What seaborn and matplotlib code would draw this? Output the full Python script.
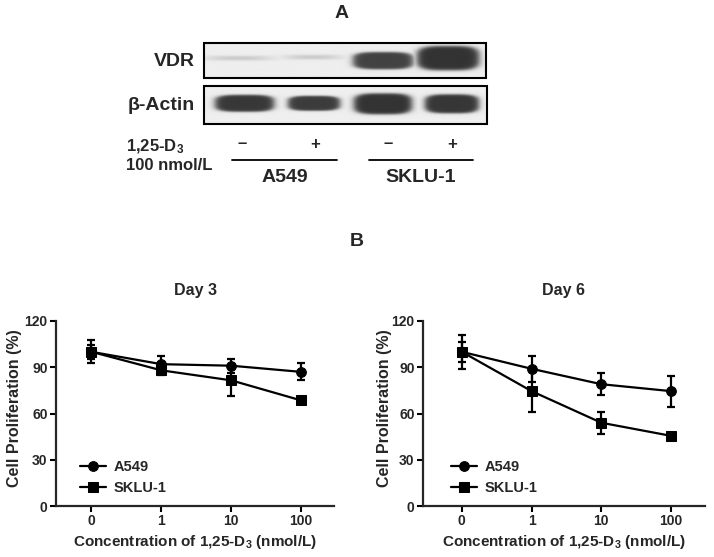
import numpy as np
import pandas as pd
import matplotlib
matplotlib.use("Agg")
import matplotlib.pyplot as plt
from matplotlib.patches import Rectangle
import seaborn as sns

# ---------------- data ----------------
conc_labels = ["0", "1", "10", "100"]
series_names = ["A549", "SKLU-1"]
day3_a549 = [100, 92, 91, 87]
day3_a549_sd = [7.5, 5, 4.5, 5.5]
day3_sklu = [100, 88, 81.5, 68.5]
day3_sklu_sd = [4.5, 3, 10, 2]
day6_a549 = [100, 89, 79, 74.5]
day6_a549_sd = [11, 8.5, 7, 10]
day6_sklu = [100, 74.5, 54, 45.5]
day6_sklu_sd = [6.5, 13.5, 7, 2]
y_ticks = [0, 30, 60, 90, 120]

blot_rows = ["VDR", "β-Actin"]
treatment_signs = ["–", "+", "–", "+"]
cell_lines = ["A549", "SKLU-1"]
vdr_intensity = [0.2, 0.2, 0.92, 1.0]
actin_intensity = [0.97, 0.95, 1.0, 0.98]

# ---------------- style ----------------
sns.set_style("ticks")
plt.rcParams["font.family"] = ["Liberation Sans", "DejaVu Sans"]
plt.rcParams["font.weight"] = "bold"
plt.rcParams["axes.labelweight"] = "bold"
plt.rcParams["axes.titleweight"] = "bold"
plt.rcParams["mathtext.fontset"] = "custom"
plt.rcParams["mathtext.rm"] = "Liberation Sans:bold"
plt.rcParams["mathtext.it"] = "Liberation Sans:bold"
plt.rcParams["mathtext.bf"] = "Liberation Sans:bold"

W, H = 714, 557
fig = plt.figure(figsize=(W / 100, H / 100), dpi=100)

# overlay axes in pixel coordinates for panel A and panel letters
ov = fig.add_axes([0, 0, 1, 1])
ov.set_xlim(0, W)
ov.set_ylim(H, 0)
ov.axis("off")

# ---- western blot (layout constants) ----
boxes = [(204, 42.7, 485.7, 78.0), (204, 85.7, 487.0, 123.7)]
band_cx = [[239, 313, 383, 448], [244.5, 314, 383, 452]]
band_cy = [[58.5, 57.5, 61, 58.5], [103, 103, 103.5, 103.5]]
band_w = [[55, 47, 60, 62], [59, 52, 58, 54]]
band_h = [[4.0, 4.0, 17, 24], [17, 15, 21, 19]]
intensities = [vdr_intensity, actin_intensity]
bg, core = 0.935, 0.2

for r, (x0, y0, x1, y1) in enumerate(boxes):
    nx, ny = int((x1 - x0) * 3), int((y1 - y0) * 3)
    xs = np.linspace(x0, x1, nx)
    ys = np.linspace(y0, y1, ny)
    X, Y = np.meshgrid(xs, ys)
    dark = np.zeros_like(X)
    for k in range(4):
        dx = np.abs(X - band_cx[r][k]) / (band_w[r][k] / 2)
        dy = np.abs(Y - band_cy[r][k]) / (band_h[r][k] / 2)
        d = (dx ** 3.5 + dy ** 3.5) ** (1 / 3.5)
        soft = 0.07 if intensities[r][k] > 0.5 else 0.3
        mask = 1 / (1 + np.exp((d - 1) / soft))
        dark = np.maximum(dark, intensities[r][k] * mask)
    img = bg - dark * (bg - core)
    ov.imshow(img, cmap="gray", vmin=0, vmax=1, extent=(x0, x1, y1, y0),
              interpolation="bilinear", aspect="auto")
    ov.add_patch(Rectangle((x0, y0), x1 - x0, y1 - y0, fill=False,
                           lw=1.5, ec="black", zorder=3))
ov.set_xlim(0, W)
ov.set_ylim(H, 0)

ov.text(342, 14, "A", ha="center", va="center", fontsize=14)
ov.text(357, 241, "B", ha="center", va="center", fontsize=14)
ov.text(195, 61, blot_rows[0], ha="right", va="center", fontsize=14)
ov.text(195, 105, blot_rows[1], ha="right", va="center", fontsize=14)
ov.text(126, 147, "1,25-D$_3$", ha="left", va="center", fontsize=12)
ov.text(126, 165, "100 nmol/L", ha="left", va="center", fontsize=12)
sign_x = [242, 315, 388, 452]
for sx, s in zip(sign_x, treatment_signs):
    ov.text(sx, 144, s, ha="center", va="center", fontsize=12)
for (lx0, lx1), name in zip([(232, 337), (369, 473)], cell_lines):
    ov.plot([lx0, lx1], [159.5, 159.5], color="black", lw=1.3)
    ov.text((lx0 + lx1) / 2, 177, name, ha="center", va="center", fontsize=14)

# ---------------- panel B ----------------
def draw(rect, a549, a549_sd, sklu, sklu_sd, title, xlim, ylab_x, leg_x):
    ax = fig.add_axes(rect)
    df = pd.DataFrame({
        "pos": list(range(len(conc_labels))) * 2,
        "value": a549 + sklu,
        "line": [series_names[0]] * len(a549) + [series_names[1]] * len(sklu),
    })
    sns.lineplot(data=df, x="pos", y="value", style="line",
                 markers={series_names[0]: "o", series_names[1]: "s"},
                 dashes=False, color="black", linewidth=1.6, markersize=7,
                 markeredgecolor="black", errorbar=None, ax=ax)
    for vals, sd in [(a549, a549_sd), (sklu, sklu_sd)]:
        ax.errorbar(range(len(vals)), vals, yerr=sd, fmt="none", ecolor="black",
                    elinewidth=1.6, capsize=3, capthick=1.6, zorder=4)
    ax.set_xlim(*xlim)
    ax.set_ylim(0, 120)
    ax.set_yticks(y_ticks)
    ax.set_xticks(range(len(conc_labels)))
    ax.set_xticklabels(conc_labels)
    sns.despine(ax=ax)
    for sp in ["left", "bottom"]:
        ax.spines[sp].set_linewidth(1.6)
    ax.tick_params(width=1.5, length=4, labelsize=10, pad=2, color="black")
    ax.set_ylabel("Cell Proliferation (%)", fontsize=11.5)
    ax.yaxis.label.set_va("center")
    ax.yaxis.set_label_coords(ylab_x, 0.53)
    ax.set_xlabel("Concentration of 1,25-D$_3$ (nmol/L)", fontsize=11)
    ax.xaxis.label.set_va("center")
    ax.xaxis.set_label_coords(0.5, -0.193)
    ax.set_title(title, fontsize=11.5, y=1.164, va="center", pad=0)
    handles, labels = ax.get_legend_handles_labels()
    keep = [(h, l) for h, l in zip(handles, labels) if l in series_names]
    ax.legend([h for h, _ in keep], [l for _, l in keep], loc="center left",
              bbox_to_anchor=(leg_x, 0.154), frameon=False, fontsize=10.5,
              handlelength=1.8, handletextpad=0.5, labelspacing=0.45,
              borderpad=0, borderaxespad=0)
    return ax

draw([56 / W, (H - 506) / H, 278 / W, 185 / H], day3_a549, day3_a549_sd,
     day3_sklu, day3_sklu_sd, "Day 3", (-0.507, 3.47), -41 / 278, 0.086)
draw([423 / W, (H - 506) / H, 282 / W, 185 / H], day6_a549, day6_a549_sd,
     day6_sklu, day6_sklu_sd, "Day 6", (-0.557, 3.486), -38.5 / 282, 0.099)

fig.savefig("out.png", dpi=100, facecolor="white")
